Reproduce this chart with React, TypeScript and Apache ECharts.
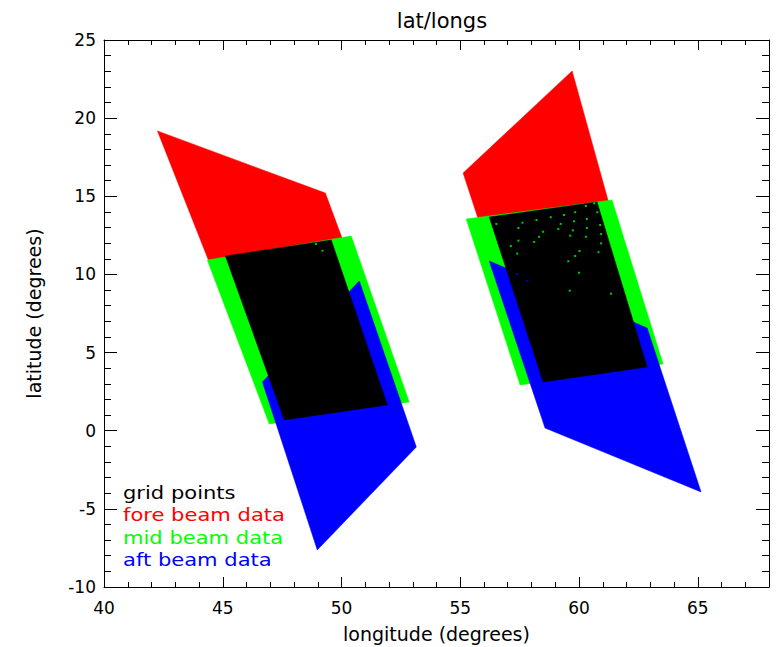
import React, { useEffect, useRef } from "react";
import * as echarts from "echarts";

// ---- data (longitude, latitude) ----
const foreBeam = [
  [[42.25, 19.18], [49.32, 15.21], [50.03, 12.3], [44.4, 10.9]],
  [[55.12, 16.49], [59.71, 23.02], [61.24, 14.65], [55.74, 13.62]],
];
const midBeam = [
  [[44.35, 10.92], [50.41, 12.46], [52.85, 1.84], [46.96, 0.43]],
  [[55.25, 13.55], [61.39, 14.76], [63.54, 4.27], [57.52, 2.93]],
];
const aftBeam = [
  [[46.67, 3.12], [50.75, 9.58], [53.15, -1.04], [48.98, -7.63]],
  [[56.22, 10.86], [62.28, 6.96], [62.87, 6.57], [65.14, -3.92], [58.57, 0.17]],
];
const gridPoints = [
  [[45.11, 11.18], [49.57, 12.2], [51.93, 1.65], [47.59, 0.69]],
  [[56.22, 13.67], [60.76, 14.63], [62.87, 4.08], [58.49, 3.12]],
];
// gaps in the grid where the mid beam data shows through
const midGaps = [
  [56.52, 13.23], [57.62, 13.31], [58.21, 13.48], [58.81, 13.66], [59.37, 13.8],
  [59.84, 13.98], [60.29, 14.38], [60.64, 14.55], [60.77, 13.98], [57.45, 12.97],
  [59.23, 13.23], [59.79, 13.4], [60.33, 13.55], [60.89, 13.16], [58.49, 12.73],
  [59.13, 12.91], [59.74, 12.82], [60.33, 12.97], [57.45, 12.16], [58.32, 12.41],
  [58.11, 12.08], [59.63, 12.48], [60.29, 12.41], [60.93, 12.59], [57.13, 11.82],
  [60.93, 11.99], [57.4, 11.33], [60.02, 11.5], [60.82, 11.42], [59.84, 11.18],
  [59.55, 10.84], [60.0, 10.11], [59.61, 8.96], [61.35, 8.77],
  [49.2, 11.52], [48.93, 11.95],
];
const aftGaps = [[57.38, 10.03], [57.83, 9.6]];

const legendLabels = ["grid points", "fore beam data", "mid beam data", "aft beam data"];
const legendColors = ["#000000", "#ff0000", "#00ff00", "#0000ff"];

const X_MIN = 40, X_MAX = 68, Y_MIN = -10, Y_MAX = 25;
const FONT = "DejaVu Sans";

function polySeries(name: string, polys: number[][][], color: string) {
  return {
    type: "custom",
    name,
    xAxisIndex: 0,
    yAxisIndex: 0,
    clip: true,
    data: polys.map((p, i) => [p[0][0], p[0][1], i]),
    renderItem: (params: any, api: any) => {
      const poly = polys[api.value(2)];
      const points = poly.map((pt) => api.coord(pt));
      return {
        type: "polygon",
        shape: { points },
        style: { fill: color, stroke: color, lineWidth: 0.5 },
      };
    },
  };
}

export default function App() {
  const ref = useRef<HTMLDivElement>(null);
  useEffect(() => {
    if (!ref.current) return;
    const chart = echarts.init(ref.current, null, { renderer: "svg" });
    const labelStyle = { color: "#000", fontFamily: FONT, fontSize: 17 };
    const majorX = (pos: string, showLabel: boolean, extra: any = {}) => ({
      type: "value",
      position: pos,
      min: X_MIN,
      max: X_MAX,
      interval: 5,
      splitLine: { show: false },
      axisLine: { show: true, onZero: false, lineStyle: { color: "#000", width: 1 } },
      axisTick: { show: true, inside: true, length: 10, lineStyle: { color: "#000" } },
      axisLabel: {
        show: showLabel,
        margin: 12,
        ...labelStyle,
        formatter: (v: number) => (v % 5 === 0 ? String(v) : ""),
      },
      ...extra,
    });
    const minorX = (pos: string) => ({
      type: "value",
      position: pos,
      min: X_MIN,
      max: X_MAX,
      interval: 1,
      splitLine: { show: false },
      axisLine: { show: false, onZero: false },
      axisTick: { show: true, inside: true, length: 5, lineStyle: { color: "#000" } },
      axisLabel: { show: false },
    });
    const majorY = (pos: string, showLabel: boolean, extra: any = {}) => ({
      type: "value",
      position: pos,
      min: Y_MIN,
      max: Y_MAX,
      interval: 5,
      splitLine: { show: false },
      axisLine: { show: true, onZero: false, lineStyle: { color: "#000", width: 1 } },
      axisTick: { show: true, inside: true, length: 13, lineStyle: { color: "#000" } },
      axisLabel: { show: showLabel, margin: 8, ...labelStyle },
      ...extra,
    });
    const minorY = (pos: string) => ({
      type: "value",
      position: pos,
      min: Y_MIN,
      max: Y_MAX,
      interval: 1,
      splitLine: { show: false },
      axisLine: { show: false, onZero: false },
      axisTick: { show: true, inside: true, length: 7, lineStyle: { color: "#000" } },
      axisLabel: { show: false },
    });

    chart.setOption({
      animation: false,
      backgroundColor: "#ffffff",
      title: {
        text: "lat/longs",
        left: 437,
        top: 5,
        textAlign: "center",
        textStyle: { color: "#000", fontFamily: FONT, fontSize: 21, fontWeight: "normal" },
      },
      grid: {
        left: 104,
        top: 40,
        right: 8,
        bottom: 60,
        containLabel: false,
        outerBoundsMode: "none",
      },
      xAxis: [
        majorX("bottom", true, {
          name: "longitude (degrees)",
          nameLocation: "middle",
          nameGap: 37,
          nameTextStyle: { ...labelStyle, fontSize: 19 },
        }),
        minorX("bottom"),
        majorX("top", false),
        minorX("top"),
      ],
      yAxis: [
        majorY("left", true, {
          name: "latitude (degrees)",
          nameLocation: "middle",
          nameGap: 61,
          nameTextStyle: { ...labelStyle, fontSize: 19 },
        }),
        minorY("left"),
        majorY("right", false),
        minorY("right"),
      ],
      graphic: legendLabels.map((t, i) => ({
        type: "text",
        x: 123,
        y: 493 + i * 22.3,
        scaleX: 1.17,
        style: {
          text: t,
          fill: legendColors[i],
          fontFamily: FONT,
          fontSize: 18,
          textVerticalAlign: "middle",
        },
      })),
      series: [
        polySeries("fore beam data", foreBeam, "#ff0000"),
        polySeries("mid beam data", midBeam, "#00ff00"),
        polySeries("aft beam data", aftBeam, "#0000ff"),
        polySeries("grid points", gridPoints, "#000000"),
        {
          type: "scatter",
          name: "mid beam gaps",
          symbol: "rect",
          symbolSize: 2,
          itemStyle: { color: "#00ff00" },
          data: midGaps,
        },
        {
          type: "scatter",
          name: "aft beam gaps",
          symbol: "rect",
          symbolSize: 2,
          itemStyle: { color: "#0000ff" },
          data: aftGaps,
        },
      ],
    });
    return () => chart.dispose();
  }, []);
  return (
    <div
      ref={ref}
      style={{ position: "fixed", left: 0, top: 0, width: 777, height: 647, background: "#fff" }}
    />
  );
}
